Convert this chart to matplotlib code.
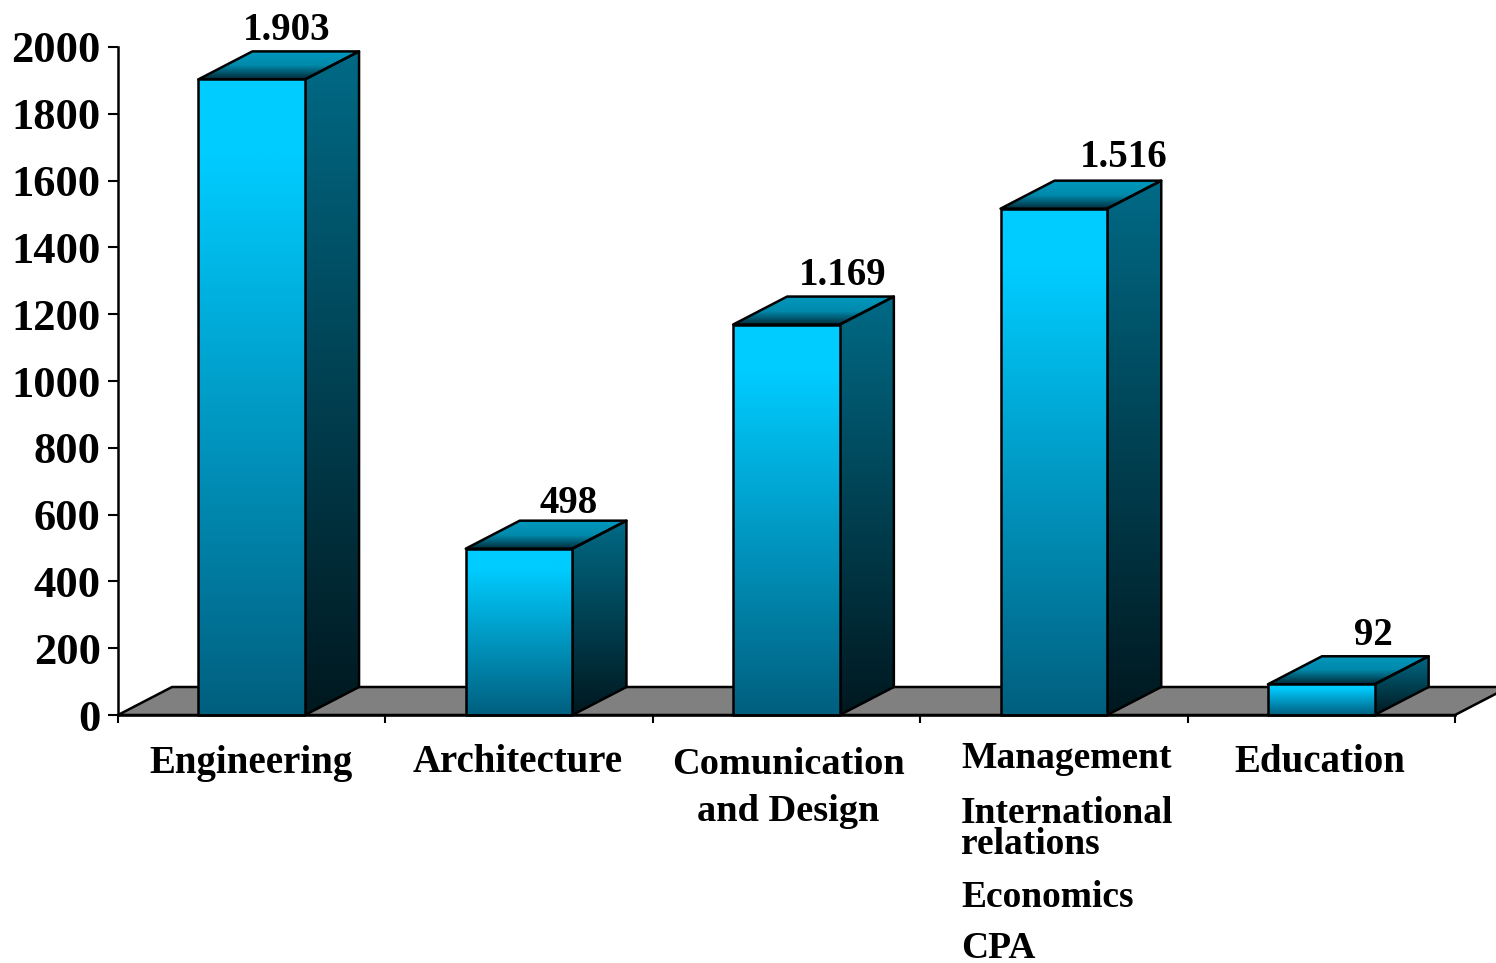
import matplotlib
matplotlib.use('Agg')
import matplotlib.pyplot as plt
import numpy as np
from matplotlib.colors import LinearSegmentedColormap
from matplotlib.patches import Polygon

# --- data ---
categories = ['Engineering', 'Architecture', 'Comunication\nand Design', 'Management', 'Education']
values = [1903, 498, 1169, 1516, 92]
value_labels = ['1.903', '498', '1.169', '1.516', '92']
y_ticks = [0, 200, 400, 600, 800, 1000, 1200, 1400, 1600, 1800, 2000]
management_extra = ['International\nrelations', 'Economics', 'CPA']

# --- layout in pixels ---
W, H = 1496, 963
LEFT, RIGHT, TOP, BOTTOM = 118, 1455, 47, 715
BAR_W = 0.399
DEPTH_PX = (54, 28)
FONT = 'Liberation Serif'

front_cmap = LinearSegmentedColormap.from_list('front', [(0, '#00CCFF'), (0.12, '#00CCFF'), (1, '#005F7F')])
side_cmap = LinearSegmentedColormap.from_list('side', ['#006A86', '#00181F'])
roof_cmap = LinearSegmentedColormap.from_list('roof', ['#0098BE', '#008AAC', '#002A38'])

fig = plt.figure(figsize=(W / 100, H / 100), dpi=100, facecolor='white')
ax = fig.add_axes([LEFT / W, 1 - BOTTOM / H, (RIGHT - LEFT) / W, (BOTTOM - TOP) / H])
ax.set_xlim(0, 5)
ax.set_ylim(0, 2000)
dx = DEPTH_PX[0] / ((RIGHT - LEFT) / 5)
dy = DEPTH_PX[1] / ((BOTTOM - TOP) / 2000)


def shaded_face(corners, cmap, zorder):
    # vertical gradient clipped to a polygon, then outlined
    xs = [c[0] for c in corners]
    ys = [c[1] for c in corners]
    grad = np.linspace(0, 1, 256).reshape(-1, 1)
    im = ax.imshow(grad, cmap=cmap, aspect='auto', origin='upper', zorder=zorder,
                   extent=(min(xs), max(xs), min(ys), max(ys)), clip_on=True)
    outline = Polygon(corners, closed=True, fc='none', ec='black', lw=1.8, zorder=zorder + 0.1,
                      clip_on=False, joinstyle='round')
    ax.add_patch(outline)
    im.set_clip_path(outline)


# grey floor
ax.add_patch(Polygon([(0, 0), (5, 0), (5 + dx, dy), (dx, dy)], closed=True, fc='#808080', ec='black',
                     lw=1.8, zorder=1, clip_on=False))

for i, v in enumerate(values):
    x0 = i + 0.5 - BAR_W / 2
    x1 = i + 0.5 + BAR_W / 2
    shaded_face([(x1, 0), (x1 + dx, dy), (x1 + dx, v + dy), (x1, v)], side_cmap, 3)
    shaded_face([(x0, v), (x1, v), (x1 + dx, v + dy), (x0 + dx, v + dy)], roof_cmap, 3)
    shaded_face([(x0, 0), (x1, 0), (x1, v), (x0, v)], front_cmap, 4)

ax.set_xlim(0, 5)
ax.set_ylim(0, 2000)

# value labels, offsets in pixels from the bar's front top centre
label_dx = [35, 49, 56, 70, 52]
label_dy = [49, 45, 49, 51, 49]
for i, (v, lab) in enumerate(zip(values, value_labels)):
    ax.annotate(lab, xy=(i + 0.5, v), xycoords='data', xytext=(label_dx[i], label_dy[i]), textcoords='offset pixels',
                ha='center', va='center', family=FONT, weight='bold', fontsize=28, annotation_clip=False, zorder=6)

# axes styling
for s in ['top', 'right']:
    ax.spines[s].set_visible(False)
ax.spines['left'].set_linewidth(1.8)
ax.spines['bottom'].set_linewidth(1.8)
ax.spines['left'].set_zorder(5)
ax.spines['bottom'].set_zorder(5)
ax.set_yticks(y_ticks)
ax.set_yticklabels([str(t) for t in y_ticks], family=FONT, weight='bold', fontsize=32)
ax.tick_params(axis='y', length=7.5, width=1.5, pad=5)
ax.set_xticks(range(6))
ax.set_xticklabels([])
ax.tick_params(axis='x', length=6, width=1.5)


def px_text(x, y, s, ha='center', linespacing=1.0, size=28):
    fig.text(x / W, 1 - y / H, s, ha=ha, va='center', family=FONT, weight='bold', fontsize=size,
             linespacing=linespacing)


px_text(251, 763, categories[0])
px_text(518, 762, categories[1])
px_text(788, 788, categories[2], linespacing=1.46, size=27.6)
px_text(961, 759, categories[3], ha='left', size=27)
px_text(1320, 762, categories[4])
px_text(961, 829, management_extra[0], ha='left', linespacing=0.86, size=27)
px_text(961, 897, management_extra[1], ha='left', size=27)
px_text(961, 948, management_extra[2], ha='left', size=27)

fig.savefig('out.png', dpi=100)
